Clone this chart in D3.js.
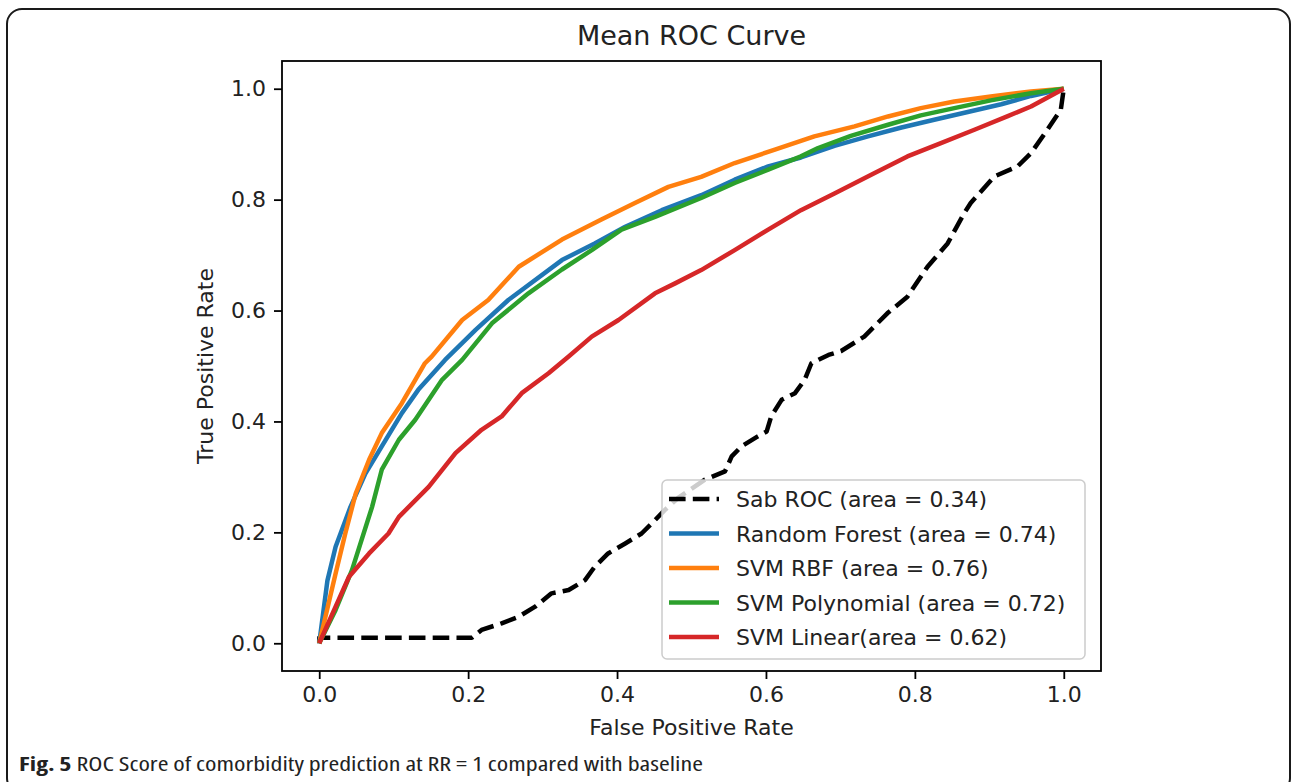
<!DOCTYPE html>
<html>
<head>
<meta charset="utf-8">
<script src="https://cdn.jsdelivr.net/npm/d3@7"></script>
<style>
  body { margin: 0; background: #fff; }
  svg { display: block; }
</style>
</head>
<body>
<svg id="chart" width="1292" height="782"></svg>
<script>
// series: [false positive rate, true positive rate]
let sabRoc = [[0,0],[0,.01],[.205,.01],[.218,.024],[.245,.036],[.268,.048],[.29,.066],[.312,.09],[.335,.096],[.357,.114],[.37,.138],[.388,.162],[.411,.18],[.433,.198],[.451,.222],[.464,.24],[.482,.262],[.518,.295],[.545,.31],[.554,.337],[.567,.355],[.589,.373],[.601,.382],[.607,.409],[.621,.439],[.639,.451],[.652,.475],[.661,.505],[.684,.52],[.701,.527],[.732,.553],[.763,.595],[.79,.625],[.817,.679],[.844,.721],[.866,.775],[.875,.794],[.907,.842],[.938,.86],[.956,.884],[.978,.926],[.996,.962],[1,1]];
let randomForest = [[0,0],[.011,.113],[.022,.174],[.042,.246],[.062,.306],[.084,.355],[.111,.415],[.133,.457],[.169,.511],[.21,.565],[.254,.619],[.326,.691],[.37,.721],[.411,.751],[.46,.781],[.513,.808],[.558,.836],[.603,.86],[.647,.876],[.692,.897],[.737,.914],[.782,.93],[.826,.944],[.871,.958],[.916,.972],[.956,.987],[1,1]];
let svmRbf = [[0,0],[.022,.126],[.035,.198],[.049,.27],[.067,.331],[.084,.379],[.111,.433],[.142,.505],[.151,.517],[.192,.583],[.227,.619],[.268,.679],[.326,.728],[.379,.764],[.424,.794],[.469,.823],[.513,.841],[.558,.866],[.612,.89],[.665,.914],[.719,.932],[.764,.95],[.808,.965],[.853,.977],[.902,.986],[.956,.995],[1,1]];
let svmPoly = [[0,0],[.022,.06],[.044,.132],[.071,.246],[.084,.313],[.107,.367],[.129,.403],[.165,.475],[.192,.511],[.232,.577],[.281,.631],[.326,.674],[.366,.709],[.406,.746],[.451,.769],[.513,.803],[.558,.83],[.603,.854],[.647,.878],[.67,.893],[.714,.915],[.764,.935],[.808,.952],[.853,.965],[.902,.979],[.956,.992],[1,1]];
let svmLinear = [[0,0],[.022,.066],[.04,.12],[.067,.162],[.093,.198],[.107,.228],[.147,.282],[.183,.343],[.218,.385],[.245,.409],[.272,.451],[.308,.487],[.335,.517],[.366,.553],[.402,.583],[.451,.631],[.478,.649],[.513,.673],[.558,.709],[.603,.746],[.647,.781],[.692,.811],[.746,.848],[.79,.878],[.835,.902],[.88,.926],[.924,.95],[.956,.968],[1,1]];

let seriesNames = ["Sab ROC (area = 0.34)", "Random Forest (area = 0.74)", "SVM RBF (area = 0.76)", "SVM Polynomial (area = 0.72)", "SVM Linear(area = 0.62)"];
let seriesData = [sabRoc, randomForest, svmRbf, svmPoly, svmLinear];
let seriesColors = ["#000000", "#1f77b4", "#ff7f0e", "#2ca02c", "#d62728"];
let tickValues = [0, 0.2, 0.4, 0.6, 0.8, 1.0];

let svg = d3.select("#chart");
let font = "'DejaVu Sans', sans-serif";
let textColor = "#222";

let plotLeft = 282, plotRight = 1101, plotTop = 61, plotBottom = 671;

let x = d3.scaleLinear().domain([-0.05, 1.05]).range([plotLeft, plotRight]);
let y = d3.scaleLinear().domain([-0.05, 1.05]).range([plotBottom, plotTop]);

// outer figure frame
svg.append("rect")
  .attr("x", 7)
  .attr("y", 9)
  .attr("width", 1283)
  .attr("height", 784)
  .attr("rx", 15)
  .style("fill", "#fff")
  .style("stroke", "#1a1a1a")
  .style("stroke-width", 2);

// curves
let line = d3.line()
  .x(d => x(d[0]))
  .y(d => y(d[1]));

let plot = svg.append("g");

seriesData.forEach(function(data, i) {
  plot.append("path")
    .datum(data)
    .attr("d", line)
    .style("fill", "none")
    .style("stroke", seriesColors[i])
    .style("stroke-width", 4.5)
    .style("stroke-linejoin", "round")
    .style("stroke-dasharray", i == 0 ? "16.6,7.2" : null);
});

// axes
let xAxis = svg.append("g")
  .attr("transform", "translate(0," + plotBottom + ")")
  .call(d3.axisBottom(x).tickValues(tickValues).tickFormat(d3.format(".1f")).tickSize(8).tickPadding(7).tickSizeOuter(0));

let yAxis = svg.append("g")
  .attr("transform", "translate(" + plotLeft + ",0)")
  .call(d3.axisLeft(y).tickValues(tickValues).tickFormat(d3.format(".1f")).tickSize(8).tickPadding(8).tickSizeOuter(0));

[xAxis, yAxis].forEach(function(ax) {
  ax.select(".domain").remove();
  ax.selectAll(".tick line").style("stroke", "#000").style("stroke-width", 1.8);
  ax.selectAll(".tick text")
    .style("font-family", font)
    .style("font-size", "22px")
    .style("fill", textColor);
});

// plot frame
svg.append("rect")
  .attr("x", plotLeft)
  .attr("y", plotTop)
  .attr("width", plotRight - plotLeft)
  .attr("height", plotBottom - plotTop)
  .style("fill", "none")
  .style("stroke", "#000")
  .style("stroke-width", 1.8);

// title and axis labels
svg.append("text")
  .attr("x", (plotLeft + plotRight) / 2)
  .attr("y", 45)
  .text("Mean ROC Curve")
  .style("text-anchor", "middle")
  .style("font-family", font)
  .style("font-size", "27px")
  .style("fill", textColor);

svg.append("text")
  .attr("x", (plotLeft + plotRight) / 2)
  .attr("y", 735)
  .text("False Positive Rate")
  .style("text-anchor", "middle")
  .style("font-family", font)
  .style("font-size", "22px")
  .style("fill", textColor);

svg.append("text")
  .attr("transform", "translate(213," + (plotTop + plotBottom) / 2 + ") rotate(-90)")
  .text("True Positive Rate")
  .style("text-anchor", "middle")
  .style("font-family", font)
  .style("font-size", "22px")
  .style("fill", textColor);

// legend
let legendX = 662, legendY = 480, rowStep = 34.5;

svg.append("rect")
  .attr("x", legendX)
  .attr("y", legendY)
  .attr("width", 423)
  .attr("height", 179)
  .attr("rx", 5)
  .style("fill", "#fff")
  .style("fill-opacity", 0.8)
  .style("stroke", "#cccccc")
  .style("stroke-width", 1.5);

let legend = svg.selectAll(".legend_row")
  .data(seriesNames)
  .enter().append("g")
  .attr("class", "legend_row")
  .attr("transform", (d, i) => "translate(" + legendX + "," + (legendY + 19 + i * rowStep) + ")");

legend.append("line")
  .attr("x1", 7)
  .attr("x2", 57)
  .attr("y1", 0)
  .attr("y2", 0)
  .style("stroke", (d, i) => seriesColors[i])
  .style("stroke-width", 4.5)
  .style("stroke-dasharray", (d, i) => i == 0 ? "16.6,7.2" : null);

legend.append("text")
  .attr("x", 74)
  .attr("y", 8)
  .text(d => d)
  .style("font-family", font)
  .style("font-size", "22px")
  .style("fill", textColor);

// figure caption
let caption = svg.append("text")
  .attr("x", 19)
  .attr("y", 771)
  .attr("textLength", 684)
  .attr("lengthAdjust", "spacingAndGlyphs")
  .style("font-family", "'Liberation Sans Narrow', 'Open Sans', sans-serif")
  .style("font-stretch", "condensed")
  .style("font-size", "19px")
  .style("fill", "#222");

caption.append("tspan")
  .style("font-weight", "bold")
  .text("Fig. 5");

caption.append("tspan")
  .text(" ROC Score of comorbidity prediction at RR = 1 compared with baseline");
</script>
</body>
</html>
